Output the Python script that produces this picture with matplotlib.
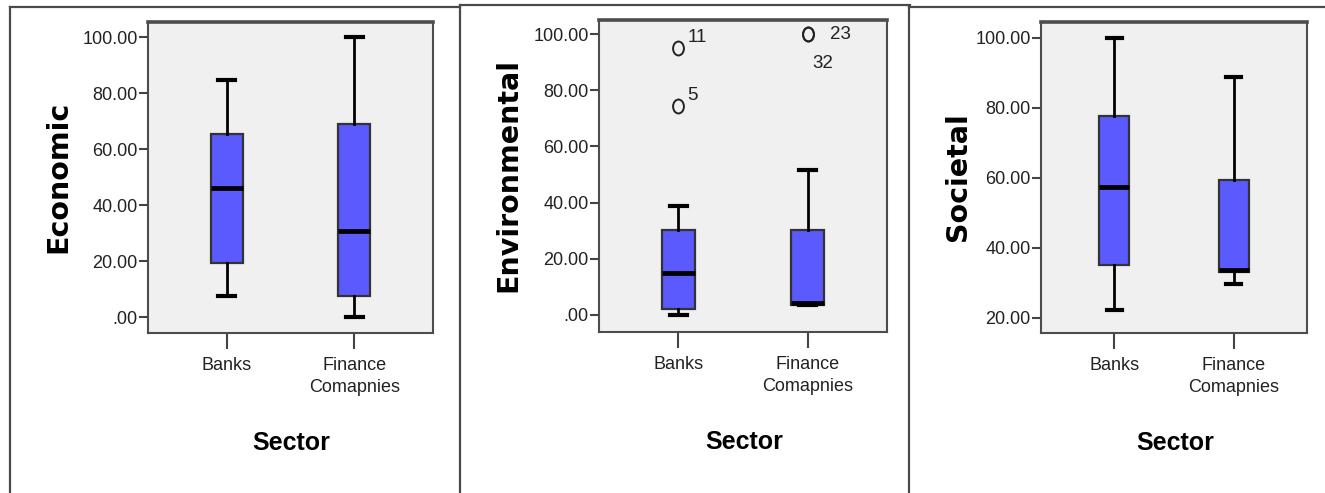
import matplotlib
matplotlib.use("Agg")
import matplotlib.pyplot as plt
from matplotlib.lines import Line2D
from matplotlib.path import Path
from matplotlib.transforms import Affine2D

# ---------------- data ----------------
categories = ['Banks', 'Finance\nComapnies']
x_title = 'Sector'

econ_whislo = [7.6, 0.0]
econ_q1 = [19.2, 7.5]
econ_med = [46.2, 30.7]
econ_q3 = [65.4, 68.9]
econ_whishi = [84.6, 100.0]
econ_fliers = [[], []]
econ_flier_ids = [[], []]

env_whislo = [0.0, 3.6]
env_q1 = [2.0, 3.6]
env_med = [14.8, 4.2]
env_q3 = [30.3, 30.3]
env_whishi = [38.6, 51.7]
env_fliers = [[95.2, 74.2], [100.0, 100.0]]
env_flier_ids = [['11', '5'], ['23', '32']]

soc_whislo = [22.1, 29.5]
soc_q1 = [34.9, 32.9]
soc_med = [57.3, 33.6]
soc_q3 = [77.6, 59.2]
soc_whishi = [100.0, 88.9]
soc_fliers = [[], []]
soc_flier_ids = [[], []]

econ_ticks = [0, 20, 40, 60, 80, 100]
econ_ticklabels = ['.00', '20.00', '40.00', '60.00', '80.00', '100.00']
env_ticks = [0, 20, 40, 60, 80, 100]
env_ticklabels = ['.00', '20.00', '40.00', '60.00', '80.00', '100.00']
soc_ticks = [20, 40, 60, 80, 100]
soc_ticklabels = ['20.00', '40.00', '60.00', '80.00', '100.00']

# ---------------- style ----------------
W, H = 1325, 493
fig = plt.figure(figsize=(W / 100, H / 100), dpi=100)
fig.patch.set_facecolor('white')

NARROW = ['Liberation Sans Narrow', 'Liberation Sans', 'DejaVu Sans']
BOXC = '#5A5AFF'
EDGE = '#333333'

ellipse = Path.unit_circle().transformed(Affine2D().scale(0.78, 1.0))


def ax_rect(l, r, t, b):
    return [l / W, 1 - b / H, (r - l) / W, (b - t) / H]


panels = [
    dict(rect=ax_rect(148, 433, 22, 333), ylabel='Economic', ylim=(-5.7, 105.4),
         stats=(econ_whislo, econ_q1, econ_med, econ_q3, econ_whishi, econ_fliers, econ_flier_ids),
         ticks=econ_ticks, ticklabels=econ_ticklabels),
    dict(rect=ax_rect(599, 887, 20, 332), ylabel='Environmental', ylim=(-6.1, 105.0),
         stats=(env_whislo, env_q1, env_med, env_q3, env_whishi, env_fliers, env_flier_ids),
         ticks=env_ticks, ticklabels=env_ticklabels),
    dict(rect=ax_rect(1041, 1307, 22, 333), ylabel='Societal', ylim=(15.6, 104.5),
         stats=(soc_whislo, soc_q1, soc_med, soc_q3, soc_whishi, soc_fliers, soc_flier_ids),
         ticks=soc_ticks, ticklabels=soc_ticklabels),
]

# offsets (points) of outlier labels relative to the marker
label_offsets = {'11': (6.5, 7.5), '5': (6.0, 8.0), '23': (16, 0), '32': (3.5, -21)}

for p in panels:
    ax = fig.add_axes(p['rect'])
    ax.set_facecolor('#F0F0F0')
    wl, q1, md, q3, wh, fl, ids = p['stats']
    stats = []
    for i in range(len(categories)):
        stats.append(dict(whislo=wl[i], q1=q1[i], med=md[i], q3=q3[i], whishi=wh[i],
                          fliers=fl[i], label=categories[i]))
    ax.bxp(stats, positions=[1, 2], widths=0.25, capwidths=0.13, patch_artist=True,
           showfliers=True,
           boxprops=dict(facecolor=BOXC, edgecolor=EDGE, linewidth=1.6),
           medianprops=dict(color='black', linewidth=3.4, solid_capstyle='butt'),
           whiskerprops=dict(color='black', linewidth=2.0),
           capprops=dict(color='black', linewidth=3.0),
           flierprops=dict(marker=ellipse, markersize=10, markerfacecolor='none',
                           markeredgecolor='#222222', markeredgewidth=1.4))
    for i in range(len(categories)):
        for v, lab in zip(fl[i], ids[i]):
            dx, dy = label_offsets.get(lab, (6, 6))
            ax.annotate(lab, xy=(i + 1, v), xytext=(dx, dy), textcoords='offset points',
                        ha='left', va='center', fontsize=13.5, family=NARROW, color='#222222')

    ax.set_xlim(0.385, 2.615)
    ax.set_ylim(*p['ylim'])
    ax.set_yticks(p['ticks'])
    ax.set_yticklabels(p['ticklabels'])
    ax.set_xticks([1, 2])
    ax.set_xticklabels(categories)

    ax.tick_params(axis='x', direction='out', length=11.5, width=1.5, color='#444444',
                   pad=5.5, labelsize=13, labelcolor='#222222')
    ax.tick_params(axis='y', direction='out', length=6.5, width=1.5, color='#444444',
                   pad=0.8, labelsize=13, labelcolor='#222222')
    for lab in ax.get_xticklabels() + ax.get_yticklabels():
        lab.set_family(NARROW)
    for lab in ax.get_xticklabels():
        lab.set_linespacing(1.45)

    for name, sp in ax.spines.items():
        sp.set_color('#4d4d4d')
        sp.set_linewidth(1.5)
    ax.spines['top'].set_linewidth(2.6)

    ax.set_ylabel(p['ylabel'], fontsize=20.5, fontweight='bold', family='DejaVu Sans',
                  color='black')
    ax.yaxis.set_label_coords(-0.313, 0.503)
    ax.yaxis.label.set_verticalalignment('center')

    ax.set_xlabel(x_title, fontsize=18, fontweight='bold', family=NARROW, color='black')
    ax.xaxis.set_label_coords(0.503, -0.353)
    ax.xaxis.label.set_verticalalignment('center')

# panel borders (figure pixel coordinates)
borders = [
    ((10, 10), (7, 493)), ((10, 460), (7, 7)),
    ((460, 460), (5, 493)), ((460, 910), (5, 5)),
    ((909, 909), (7, 493)), ((909, 1325), (7, 7)),
]
for xs, ys in borders:
    fig.add_artist(Line2D([x / W for x in xs], [1 - y / H for y in ys],
                          transform=fig.transFigure, color='#4a4a4a', linewidth=1.6))

fig.savefig('out.png', dpi=100, facecolor='white')
